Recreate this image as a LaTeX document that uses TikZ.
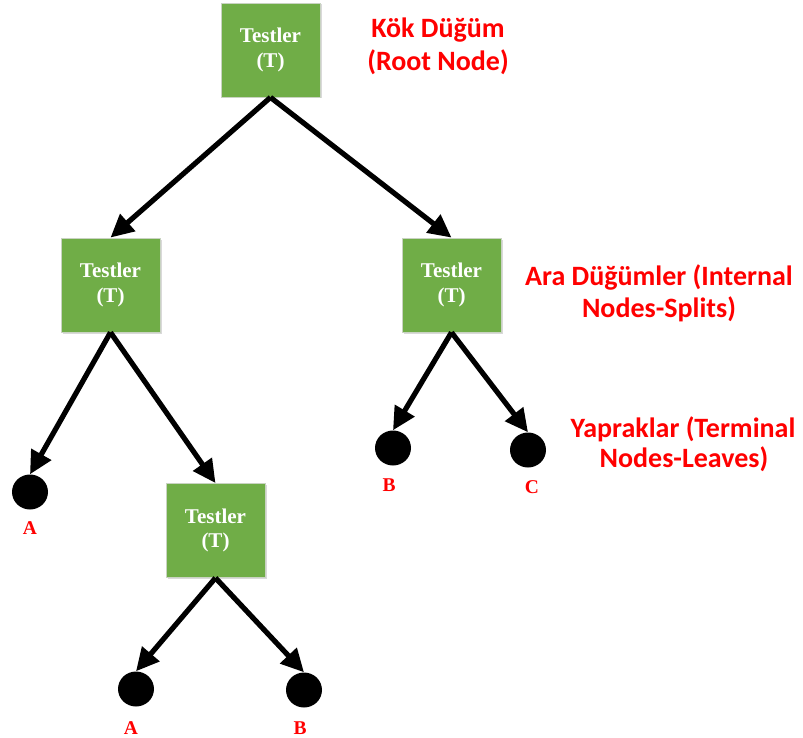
\documentclass[tikz,border=0pt]{standalone}
\usepackage{fontspec}
\setmainfont{Liberation Serif}
\newfontfamily\labelfont{Carlito}
\usetikzlibrary{arrows.meta,shadows,shapes.geometric}
\definecolor{testgreen}{HTML}{70AD47}
\definecolor{boxedge}{HTML}{C9D3C2}
\definecolor{labelred}{HTML}{FF0000}
\tikzset{
  testbox/.style={rectangle, fill=testgreen, draw=boxedge, line width=0.8pt,
    minimum width=99pt, minimum height=94pt, inner sep=0pt,
    text=white, align=center, font=\fontsize{21}{24.5}\selectfont\bfseries,
    drop shadow={shadow xshift=1.5pt, shadow yshift=-1.5pt, opacity=0.15, fill=black}},
  leaf/.style={ellipse, fill=black, minimum width=36pt, minimum height=35pt, inner sep=0pt},
  leaftext/.style={text=labelred, font=\fontsize{19.5}{22}\selectfont\bfseries, inner sep=0pt},
  levellabel/.style={text=labelred, font=\labelfont\fontsize{28}{32}\selectfont\bfseries, inner sep=0pt},
  branch/.style={line width=5.2pt, -{Triangle[length=23pt,width=22pt]}, shorten >=0pt}
}
\begin{document}
\begin{tikzpicture}[x=1pt,y=-1pt]
  \useasboundingbox (0,0) rectangle (803,738);

  % decision nodes
  \node[testbox] (root) at (270.5,50) {Testler\\(T)};
  \node[testbox] (left) at (110.5,285) {Testler\\(T)};
  \node[testbox] (right) at (451.5,285) {Testler\\(T)};
  \node[testbox] (lower) at (215.5,530.5) {Testler\\(T)};

  % leaves
  \node[leaf] (la) at (30,492) {};
  \node[leaf] (rb) at (393,448) {};
  \node[leaf] (rc) at (528,450) {};
  \node[leaf] (ba) at (136,689) {};
  \node[leaf] (bb) at (304,690) {};

  \node[leaftext] (tla) at (30,528) {A};
  \node[leaftext] (trb) at (389,485) {B};
  \node[leaftext] (trc) at (532,487) {C};
  \node[leaftext] (tba) at (131,728) {A};
  \node[leaftext] (tbb) at (300,728) {B};

  % branches
  \draw[branch] (root.south) -- (left.north);
  \draw[branch] (root.south) -- (right.north);
  \draw[branch] (left.south) -- (la.north);
  \draw[branch] (left.south) -- (lower.north);
  \draw[branch] (right.south) -- (rb.north);
  \draw[branch] (right.south) -- (rc.north);
  \draw[branch] (lower.south) -- (ba.north);
  \draw[branch] (lower.south) -- (bb.north);

  % level captions
  \node[levellabel] (k1) at (438,30) {Kök Düğüm};
  \node[levellabel] (k2) at (438,62) {(Root Node)};
  \node[levellabel] (a1) at (659,277) {Ara Düğümler (Internal};
  \node[levellabel] (a2) at (659,309) {Nodes-Splits)};
  \node[levellabel] (y1) at (683,429) {Yapraklar (Terminal};
  \node[levellabel] (y2) at (684,459) {Nodes-Leaves)};
\end{tikzpicture}
\end{document}
